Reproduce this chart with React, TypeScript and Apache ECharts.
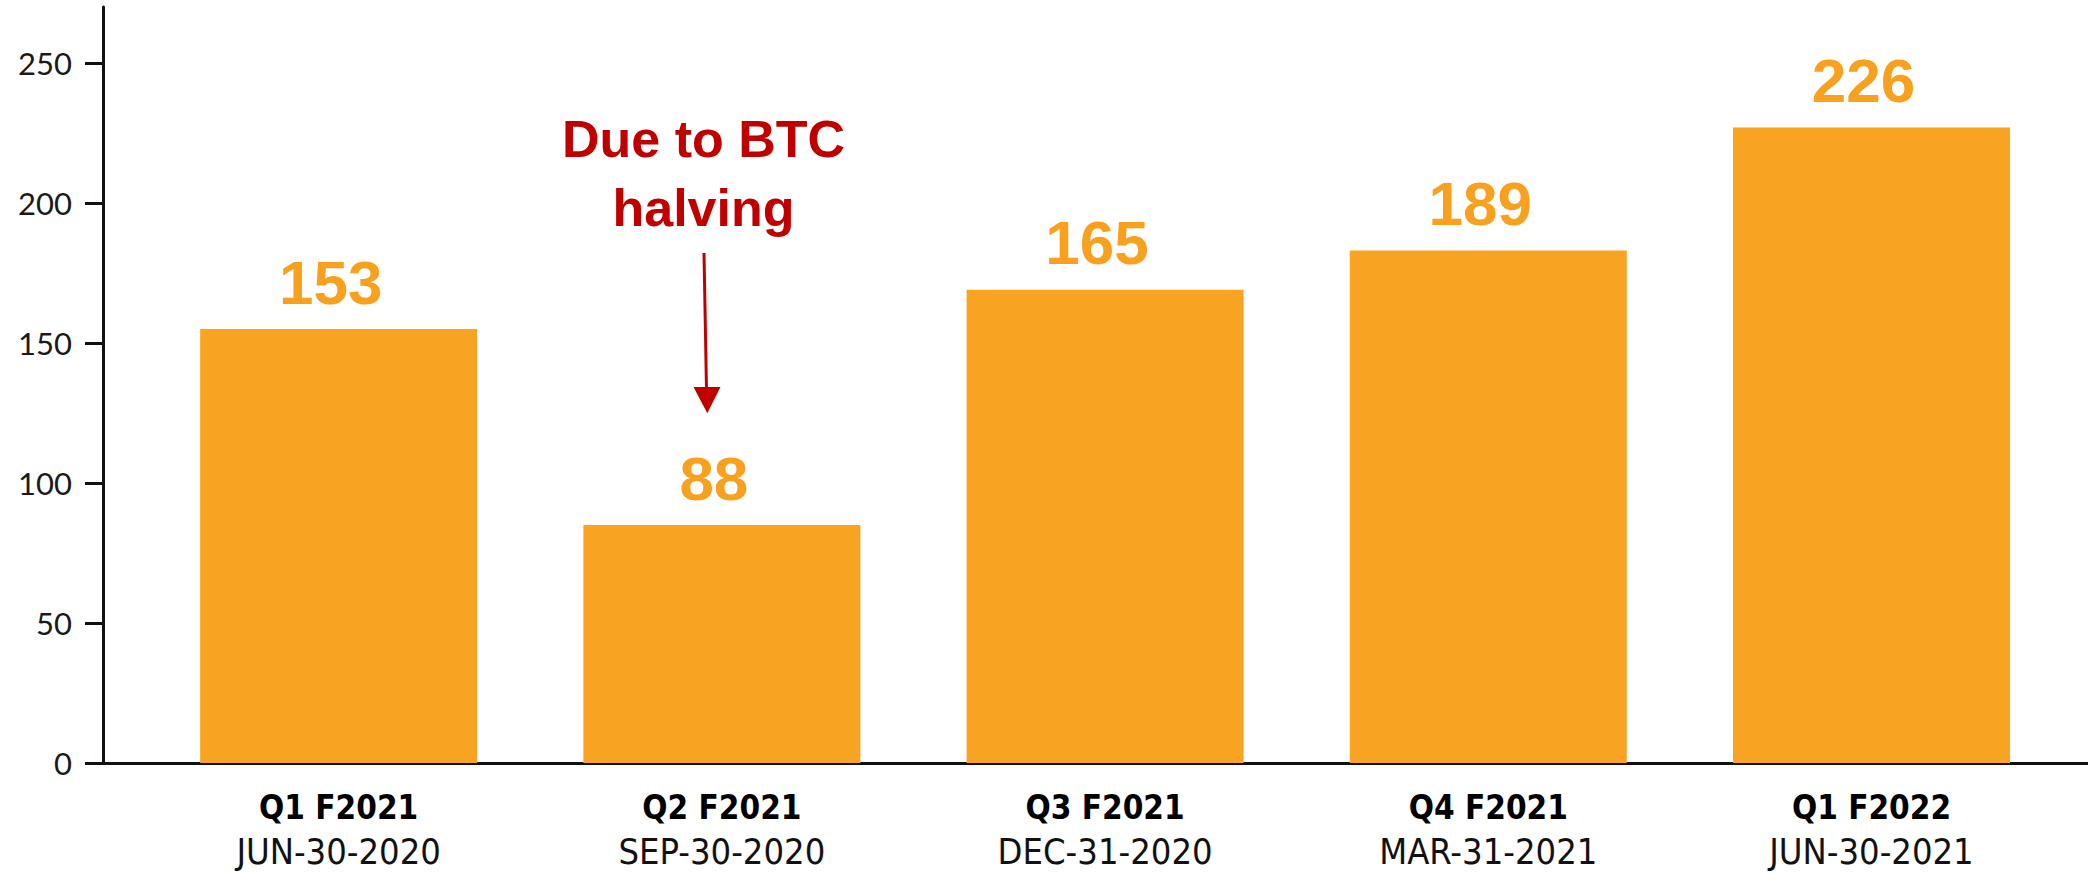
import React, { useEffect, useRef } from "react";
import * as echarts from "echarts";

// Quarter names and period-end dates (x-axis labels)
const quarters = ["Q1 F2021", "Q2 F2021", "Q3 F2021", "Q4 F2021", "Q1 F2022"];
const periodEnds = ["JUN-30-2020", "SEP-30-2020", "DEC-31-2020", "MAR-31-2021", "JUN-30-2021"];
// Bar heights as drawn in the picture
const barHeights = [155, 85, 169, 183, 227];
// Values printed above the bars
const reportedValues = [153, 88, 165, 189, 226];
// Y-axis tick values
const yTicks = [0, 50, 100, 150, 200, 250];
const annotationText = "Due to BTC\nhalving";

const ORANGE = "#F9A322";
const RED = "#C00000";
const AXIS = "#111111";
const NARROW = "'Liberation Sans Narrow', 'DejaVu Sans Condensed', 'Liberation Sans', sans-serif";

export default function App() {
  const ref = useRef<HTMLDivElement>(null);

  useEffect(() => {
    document.body.style.margin = "0";
    document.body.style.overflow = "hidden";
    if (!ref.current) return;
    const chart = echarts.init(ref.current, undefined, { renderer: "svg" });
    const xIdx = quarters.map((_, i) => i);
    chart.setOption({
      animation: false,
      backgroundColor: "#ffffff",
      grid: { left: 103, right: 0, top: 7, bottom: 109, containLabel: false, outerBoundsMode: "none" },
      xAxis: {
        type: "value",
        min: -0.615,
        max: 4.565,
        splitLine: { show: false },
        axisTick: { show: false },
        axisLine: {
          show: true,
          onZero: false,
          lineStyle: { color: AXIS, width: 3 },
        },
        axisLabel: {
          customValues: xIdx,
          margin: 22,
          formatter: (v: number) => {
            const i = Math.round(v);
            return `{a|${quarters[i]}}\n{b|${periodEnds[i]}}`;
          },
          rich: {
            a: {
              fontFamily: NARROW,
              fontWeight: "bold",
              fontSize: 33,
              lineHeight: 44,
              color: "#000000",
            },
            b: {
              fontFamily: NARROW,
              fontSize: 36,
              lineHeight: 44,
              color: "#111111",
            },
          },
        },
      },
      yAxis: {
        type: "value",
        min: 0,
        max: 270,
        splitLine: { show: false },
        axisLine: { show: true, onZero: false, lineStyle: { color: AXIS, width: 3 } },
        axisTick: { show: true, customValues: yTicks, length: 18, lineStyle: { color: AXIS, width: 3 } },
        axisLabel: {
          customValues: yTicks,
          margin: 31,
          fontFamily: "Lato, 'Open Sans', sans-serif",
          fontSize: 31,
          color: "#1a1a1a",
        },
      },
      series: [
        {
          type: "bar",
          data: barHeights.map((v, i) => [i, v]),
          barWidth: 277,
          itemStyle: { color: ORANGE },
          label: {
            show: true,
            position: "top",
            distance: 16,
            offset: [-8, 0],
            formatter: (p: any) => String(reportedValues[p.dataIndex]),
            fontFamily: "'Liberation Sans', Arial, sans-serif",
            fontWeight: "bold",
            fontSize: 62,
            color: "#F7A11F",
          },
        },
      ],
      graphic: [
        {
          type: "text",
          x: 703.5,
          y: 173,
          style: {
            text: annotationText,
            fill: RED,
            font: "bold 52px 'Liberation Sans', Arial, sans-serif",
            align: "center",
            verticalAlign: "middle",
            lineHeight: 69,
          },
        },
        {
          type: "line",
          shape: { x1: 704, y1: 253, x2: 706.5, y2: 390 },
          style: { stroke: RED, lineWidth: 3 },
        },
        {
          type: "polygon",
          shape: { points: [[693.5, 387], [720.5, 387], [707.3, 413.3]] },
          style: { fill: RED },
        },
      ],
    });
    return () => chart.dispose();
  }, []);

  return <div ref={ref} style={{ width: 2088, height: 872 }} />;
}
